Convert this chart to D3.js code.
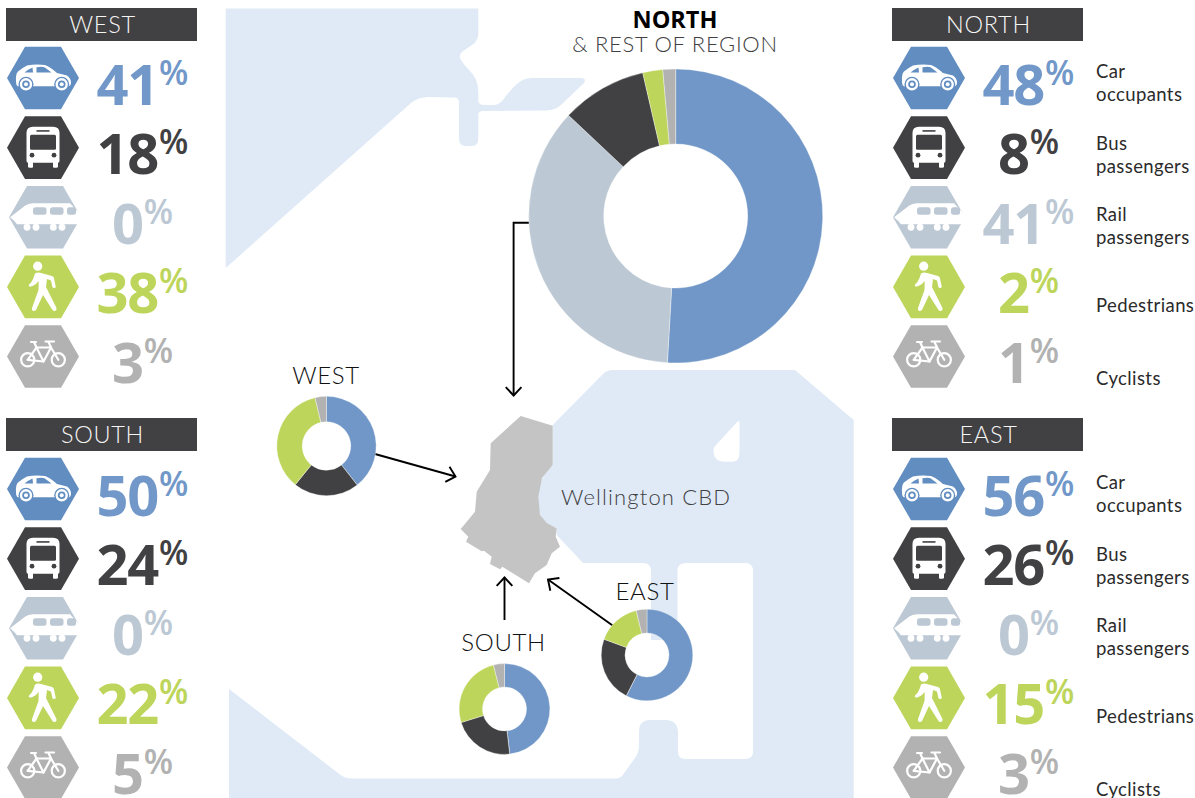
<!DOCTYPE html>
<html><head><meta charset="utf-8">
<script src="https://cdn.jsdelivr.net/npm/d3@7"></script>
<style>html,body{margin:0;padding:0;background:#fff}svg{display:block}</style>
</head><body><svg id="c" width="1195" height="798"></svg>
<script>
// --- data ---
const modeKeys = ["car","bus","rail","ped","bike"];
const modeLabels = [["Car","occupants"],["Bus","passengers"],["Rail","passengers"],["Pedestrians"],["Cyclists"]];
const regionNames = ["WEST","NORTH","SOUTH","EAST"];
const westPct  = [41,18,0,38,3];
const northPct = [48,8,41,2,1];
const southPct = [50,24,0,22,5];
const eastPct  = [56,26,0,15,3];
// ring shares as drawn in the picture, clockwise from the top
const ringOrder = ["car","rail","bus","ped","bike"];
const westRing  = [39.4,0,21.4,35.5,3.7];
const northRing = [50.9,36.1,9.4,2.2,1.4];
const southRing = [48.2,0,22,25.9,3.9];
const eastRing  = [57.5,0,23.1,15.6,3.8];

const hexColor = {car:"#618dc1",bus:"#414042",rail:"#bcc8d4",ped:"#bcd55a",bike:"#b2b2b2"};
const numColor = {car:"#7198c8",bus:"#414042",rail:"#bcc8d4",ped:"#bcd55a",bike:"#b2b2b2"};
const ringColor= {car:"#7097c7",bus:"#414042",rail:"#bcc8d4",ped:"#bcd55a",bike:"#b2b2b2"};
const FONT = "'Open Sans',sans-serif", LIGHT = "Lato,'Open Sans',sans-serif";

const svg = d3.select("#c");

// --- base map ---
const mapColor = "#dfeaf6";
const north_land = "M225.7 8.5H478.3V33Q478.3 41 472 45L463 51Q458 55 461 60Q464 65 470 71Q478.3 79 478.3 92V100Q478.3 105 484 105H493Q499 105 503 100Q511 89 517 84Q523 78 532 78H580Q587 78 584 83L562 104Q556 110 546 110.5L483 111Q478.3 111 478.3 115V138Q478.3 146 472 146H466Q459 146 459 138V102Q459 97.5 454 97.5L428 97Q418 97 411 103L225.7 268Z";
const south_land = "M552.7 425L603 374Q607 370 613 370H795L853.7 420V798H229V689L338 773Q344 778.5 352 778.5H612Q619 779 622 776L635 758Q639 753 639 745V732Q639 720 650 720H665Q678 720 678 733V752Q678 759 685 759H745Q753 759 753 752V571Q753 563 745 563H686Q677.5 563 677.5 571V640H651V571Q651 563 643 563H583L556.7 535V528L546 523Q540 518 539 510Q537 497 539 487Q541 477 552.7 465Z";
const hole = "M738 421Q739.5 420.5 739.5 423V453Q739.5 461.7 732 461.7H724Q714 461.7 713.3 451Q713 448 716 445Z";
const cbd = "M520.7 416L552.7 425.7V465L542 478L538.3 496.7L540 515L546.7 523L556.7 528.3L555.7 536.7L560 546.7L551.7 553.3L546.7 565L535 573.3L529 583.3L502.3 566.7L500 569.3L490 564L491.7 556.7L484 550.7L481.7 551.3L466 541.7L468.3 536.7L460.7 529L475 511.7L476.7 491.7L490 470L490.7 443.3Z";
svg.append("path").attr("d",north_land).attr("fill",mapColor);
svg.append("path").attr("d",south_land).attr("fill",mapColor);
svg.append("path").attr("d",hole).attr("fill","#fff");
svg.append("path").attr("d",cbd).attr("fill","#c4c4c4");
svg.append("text").attr("x",561).attr("y",505).attr("font-family",LIGHT).attr("font-weight",300).attr("font-size",22).attr("letter-spacing",1.15).attr("fill","#414042").text("Wellington CBD");

// --- arrows ---
function arrow(points){
  const n = points.length, [tx,ty] = points[n-1], [px,py] = points[n-2];
  const a = Math.atan2(py-ty,px-tx), L = 11.5, w = 0.75;
  const g = svg.append("g").attr("fill","none").attr("stroke","#000").attr("stroke-width",1.9);
  g.append("path").attr("d",d3.line()(points));
  g.append("path").attr("d",d3.line()([[tx+L*Math.cos(a+w),ty+L*Math.sin(a+w)],[tx,ty],[tx+L*Math.cos(a-w),ty+L*Math.sin(a-w)]]));
}
arrow([[529,222.7],[513.6,222.7],[513.6,395.5]]);
arrow([[375,454],[455.5,476.5]]);
arrow([[504.5,620],[504.5,577.5]]);
arrow([[613,625.7],[548,579.5]]);

// --- rings ---
const pie = d3.pie().sort(null).value(d=>d);
function ring(values,cx,cy,ro,ri){
  const arc = d3.arc().outerRadius(ro).innerRadius(ri);
  svg.append("g").attr("transform",`translate(${cx},${cy})`)
    .selectAll("path").data(pie(values)).join("path")
    .attr("d",arc).attr("fill",(d,i)=>ringColor[ringOrder[i]])
    .attr("stroke","#fff").attr("stroke-width",0.35);
}
ring(northRing,675.7,216,147,72);
ring(westRing,326.5,446,49.7,24.3);
ring(southRing,504.5,709,45.4,22);
ring(eastRing,647,655,45.8,22);

function mapLabel(t,x,y){
  svg.append("text").attr("x",x).attr("y",y).attr("text-anchor","middle")
   .attr("font-family",LIGHT).attr("font-weight",300).attr("font-size",24).attr("letter-spacing",0.6).attr("fill","#111").text(t);
}
mapLabel(regionNames[0],326,384);
mapLabel(regionNames[2],503.5,651);
mapLabel(regionNames[3],645,600);
svg.append("text").attr("x",675).attr("y",28).attr("text-anchor","middle").attr("font-family",FONT).attr("font-weight",700).attr("font-size",23.5).attr("fill","#000").text(regionNames[1]);
svg.append("text").attr("x",675).attr("y",52).attr("text-anchor","middle").attr("font-family",LIGHT).attr("font-weight",300).attr("font-size",22).attr("letter-spacing",0.7).attr("fill","#414042").text("& REST OF REGION");

// --- icons ---
const hexW = 36, hexH = 31.3, hexT = 18;
const hexPts = [[-hexW,0],[-hexT,-hexH],[hexT,-hexH],[hexW,0],[hexT,hexH],[-hexT,hexH]];
const icons = {
  car(g,c){
    g.append("path").attr("fill","#fff").attr("d","M-27 3Q-27.5 -4 -25 -6.5Q-21 -10 -16 -12.5Q-8 -14 2 -13Q6 -12 14 -5L24 -2.5Q28 0 28 5Q28 8 26 8.3H-25Q-27 8 -27 3Z");
    g.append("path").attr("fill",c).attr("d","M-18.5 -5.5Q-15 -8.5 -10.5 -10.5L-10 -5.5Z M-6.5 -10.8Q-1 -11.5 1.5 -10.8L8.5 -5.5H-6.5Z");
    [-17,18.7].forEach(x=>{
      g.append("circle").attr("cx",x).attr("cy",6.3).attr("r",7.5).attr("fill",c);
      g.append("circle").attr("cx",x).attr("cy",6.3).attr("r",5).attr("fill","none").attr("stroke","#fff").attr("stroke-width",2.4);
      g.append("circle").attr("cx",x).attr("cy",6.3).attr("r",2).attr("fill","#fff");
    });
  },
  bus(g,c){
    g.append("path").attr("fill","#fff").attr("d","M-16.5 -15Q-16.5 -21 -10 -21H10Q16.5 -21 16.5 -15V13Q16.5 15 15 15V19Q15 20 13 20H11Q10 20 10 19V15H-10V19Q-10 20 -11 20H-13Q-15 20 -15 19V15Q-16.5 15 -16.5 13Z");
    g.append("rect").attr("x",-13).attr("y",-13).attr("width",26).attr("height",15).attr("rx",1.5).attr("fill",c);
    g.append("rect").attr("x",-6.5).attr("y",-17.5).attr("width",13).attr("height",1.6).attr("fill",c);
    [-11,11].forEach(x=>g.append("circle").attr("cx",x).attr("cy",7.5).attr("r",2.4).attr("fill",c));
  },
  rail(g,c){
    g.append("path").attr("fill","#fff").attr("d","M-35 0L-20 -11.5Q-17 -14 -12 -14H25L38 0L36 7H-28Q-30 4 -35 0Z");
    [-12,5,22].forEach((x,i)=>g.append("rect").attr("x",x).attr("y",-10).attr("width",i<2?13.5:9).attr("height",7.5).attr("rx",2.5).attr("fill",c));
    [-18,-9,8.3,17].forEach(x=>g.append("circle").attr("cx",x).attr("cy",10).attr("r",3.4).attr("fill","#fff"));
  },
  ped(g){
    g.append("circle").attr("cx",-5.3).attr("cy",-20.7).attr("r",4.6).attr("fill","#fff");
    g.append("path").attr("fill","#fff").attr("d","M-8 -13.5Q-5 -15 -2 -14L9 -11Q11 -10.5 11 -8.5L12.8 0Q12.5 1 11 1Q9.8 1 9.4 0L8 -6.5L4 -8L3 0L13.5 21Q14 23.5 12 24Q10.5 24.5 9.5 23L0 8L-7 23Q-8.5 24.5 -10 24Q-11.5 23 -11 21L-4.5 3L-4.3 -6L-7 -3Q-11 -0.5 -13 -0.2Q-15 -1 -14 -2.5Q-11 -5 -9.5 -9Z");
  },
  bike(g){
    const s = g.append("g").attr("fill","none").attr("stroke","#fff").attr("stroke-width",2.2).attr("stroke-linecap","round").attr("stroke-linejoin","round");
    s.append("circle").attr("cx",-15.3).attr("cy",3.3).attr("r",6.6);
    s.append("circle").attr("cx",15.3).attr("cy",3.3).attr("r",6.6);
    s.append("path").attr("d",d3.line()([[-15.3,3.3],[-6.5,-9],[8,-9],[15.3,3.3]]));
    s.append("path").attr("d",d3.line()([[-6.5,-9],[0.5,5],[8,-9]]));
    s.append("path").attr("d",d3.line()([[-15.3,3.3],[0.5,5]]));
    s.append("path").attr("d",d3.line()([[-8.8,-14],[-6.5,-9]]));
    s.append("path").attr("d",d3.line()([[5.5,-14.5],[8,-9]]));
    s.append("path").attr("d",d3.line()([[-12,-14.5],[-7,-14.5]]));
    s.append("path").attr("d",d3.line()([[2.5,-15],[11,-15]]));
  }
};

// --- panels ---
function panel(name,pct,x,dy,hdrDy,railShift,labels){
  const y = d3.scalePoint().domain(modeKeys).range([78+dy,356.5+dy]);
  svg.append("rect").attr("x",x).attr("y",8+hdrDy).attr("width",191).attr("height",33).attr("fill","#414042");
  svg.append("text").attr("x",x+96.5).attr("y",33+hdrDy).attr("text-anchor","middle").attr("font-family",LIGHT).attr("font-weight",300).attr("font-size",23.5).attr("letter-spacing",0.7).attr("fill","#f5f5f5").text(name);
  modeKeys.forEach((k,i)=>{
    const ox = x+37+(k==="rail"?railShift:0);
    const g = svg.append("g").attr("transform",`translate(${ox},${y(k)})`);
    g.append("path").attr("d",d3.line()(hexPts)+"Z").attr("fill",hexColor[k]);
    icons[k](g,hexColor[k]);
    const t = svg.append("text").attr("x",x+136.5).attr("y",y(k)+26.5).attr("text-anchor","middle").attr("font-family",FONT).attr("fill",numColor[k]);
    t.append("tspan").attr("font-size",56).attr("font-weight",700).attr("letter-spacing",-1.3).text(pct[i]);
    t.append("tspan").attr("font-size",34).attr("font-weight",600).attr("dx",1).attr("dy",-20).text("%");
    if(labels){
      const base = [78,150,221,312,385][i]+dy;
      modeLabels[i].forEach((s,j)=>svg.append("text").attr("x",1096).attr("y",base+j*22.5)
        .attr("font-family",LIGHT).attr("font-size",18.5).attr("letter-spacing",0.4).attr("fill","#2b2b2b").text(s));
    }
  });
}
panel(regionNames[0],westPct,6,0,0,2,false);
panel(regionNames[1],northPct,892,0,0,0,true);
panel(regionNames[2],southPct,6,411,410,2,false);
panel(regionNames[3],eastPct,892,411,410,0,true);
</script></body></html>
